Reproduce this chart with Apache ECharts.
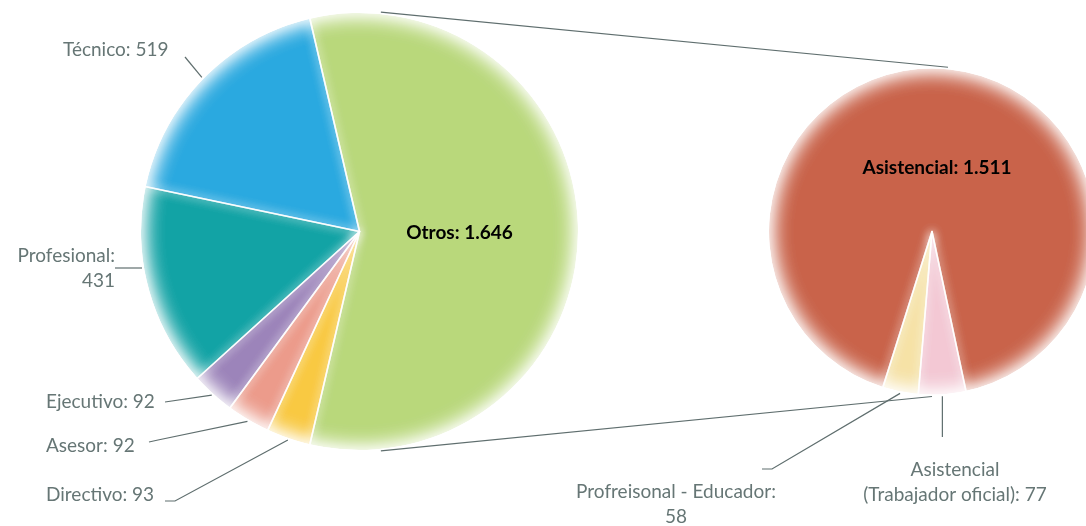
<!DOCTYPE html>
<html><head><meta charset="utf-8">
<script src="https://cdn.jsdelivr.net/npm/echarts@6/dist/echarts.min.js"></script>
<style>html,body{margin:0;padding:0;background:#fff}#c{width:1086px;height:526px}</style>
</head><body><div id="c"></div>
<script>
// ---------- data ----------
const mainCategories = ['Otros', 'Directivo', 'Asesor', 'Ejecutivo', 'Profesional', 'Técnico'];
const mainValues = [1646, 93, 92, 92, 431, 519];
const subCategories = ['Asistencial', 'Asistencial\n(Trabajador oficial)', 'Profreisonal - Educador'];
const subValues = [1511, 77, 58];

// ---------- styles / layout ----------
const mainColors = ['#b9d87b', '#f9c942', '#ec9b8b', '#9c84ba', '#12a3a5', '#2aa9e0'];
const subColors = ['#c9634a', '#f3c8d4', '#f6e2a6'];
const C1 = [359.5, 231.5], R1 = 220.5;
const C2 = [932, 231.5], R2 = 165;
const TEXT = '#667675', LINE = '#5f6e6e';
const FONT = 'Lato, "Noto Sans", sans-serif';
const wrapAfterColon = new Set(['Profesional', 'Profreisonal - Educador']);

const sum = a => a.reduce((s, v) => s + v, 0);
const fmt = v => String(v).replace(/\B(?=(\d{3})+(?!\d))/g, '.');
const mainStart = mainValues[0] / sum(mainValues) * 180; // "Otros" faces the second pie
const subStart = 252.5;

function midAngle(values, i, start) {
  const tot = sum(values);
  let acc = 0;
  for (let k = 0; k < i; k++) acc += values[k];
  return start - (acc + values[i] / 2) / tot * 360;
}
function edgePoint(c, r, deg) {
  const a = deg * Math.PI / 180;
  return [c[0] + r * Math.cos(a), c[1] - r * Math.sin(a)];
}

const mainLabelPos = {
  'Otros': { x: C1[0] + 100, y: 233, align: 'center' },
  'Técnico': { x: 63, y: 50, align: 'left', line: [[185, 57]] },
  'Profesional': { x: 115, y: 268, align: 'right', line: [[115, 268]], horizontal: true },
  'Ejecutivo': { x: 46, y: 402, align: 'left', line: [[165, 402]] },
  'Asesor': { x: 46, y: 446, align: 'left', line: [[149, 442], [158, 440]] },
  'Directivo': { x: 46, y: 495, align: 'left', line: [[165, 501], [175, 501]] }
};
const subLabelPos = {
  'Asistencial': { x: C2[0] + 5, y: 168, align: 'center' },
  'Asistencial\n(Trabajador oficial)': { x: 955, y: 482, align: 'center', vertical: 437 },
  'Profreisonal - Educador': { x: 676, y: 504, align: 'center', line: [[762, 469], [772, 469]] }
};

function makeLayout(cats, vals, start, c, r, posMap) {
  return function (params) {
    const i = params.dataIndex;
    const cfg = posMap[cats[i]];
    const out = { x: cfg.x, y: cfg.y, align: cfg.align, verticalAlign: 'middle' };
    const p0 = edgePoint(c, r, midAngle(vals, i, start));
    if (cfg.vertical) {
      out.labelLinePoints = [p0, [p0[0], cfg.vertical], [p0[0], cfg.vertical]];
    } else if (cfg.line) {
      let target = p0;
      if (cfg.horizontal) {
        const y = cfg.line[0][1];
        target = [c[0] - Math.sqrt(r * r - (y - c[1]) * (y - c[1])), y];
      }
      const pts = [target].concat(cfg.line.slice().reverse());
      while (pts.length < 3) pts.push(pts[pts.length - 1]);
      out.labelLinePoints = pts;
    }
    return out;
  };
}

const labelText = p => wrapAfterColon.has(p.name)
  ? p.name + ':\n' + fmt(p.value)
  : p.name + ': ' + fmt(p.value);

const pieBase = (c, r, start) => ({
  type: 'pie', center: c, radius: r, startAngle: start, clockwise: true,
  avoidLabelOverlap: false, silent: true, emphasis: { disabled: true },
  animation: false
});

const pies = [
  [C1, R1, mainStart, mainCategories, mainValues, mainColors],
  [C2, R2, subStart, subCategories, subValues, subColors]
];

const series = [];
// base colored pies
pies.forEach(([c, r, s, cats, vals, cols]) => {
  series.push(Object.assign(pieBase(c, r, s), {
    z: 1, label: { show: false }, labelLine: { show: false },
    data: cats.map((n, i) => ({ name: n, value: vals[i], itemStyle: { color: cols[i], borderWidth: 0 } }))
  }));
});
// soft slice boundaries (white hairline with glow)
pies.forEach(([c, r, s, cats, vals]) => {
  series.push(Object.assign(pieBase(c, r, s), {
    z: 2, label: { show: false }, labelLine: { show: false },
    itemStyle: { color: 'rgba(0,0,0,0)', borderColor: 'rgba(255,255,255,0.8)', borderWidth: 1.6, shadowBlur: 10, shadowColor: '#ffffff' },
    data: cats.map((n, i) => ({ name: n, value: vals[i] }))
  }));
});
// soft outer edge: white ring outside the pie whose blurred shadow fades inward
[0, 1].forEach(() => {
  pies.forEach(([c, r, s, cats, vals]) => {
    series.push(Object.assign(pieBase(c, [r - 2, r + 50], s), {
      z: 2, label: { show: false }, labelLine: { show: false },
      itemStyle: { color: '#ffffff', borderWidth: 0, shadowBlur: 22, shadowColor: '#ffffff' },
      data: [{ name: 'total', value: sum(vals) }]
    }));
  });
});
// label pies
const outsideLabel = { show: true, position: 'outside', color: TEXT, fontFamily: FONT, fontSize: 19, lineHeight: 25, formatter: labelText };
const insideLabel = { show: true, position: 'inside', color: '#000', fontFamily: FONT, fontSize: 19, fontWeight: 'bold', formatter: labelText };
[[C1, R1, mainStart, mainCategories, mainValues, mainLabelPos], [C2, R2, subStart, subCategories, subValues, subLabelPos]]
  .forEach(([c, r, s, cats, vals, pos]) => {
    series.push(Object.assign(pieBase(c, r, s), {
      z: 3, itemStyle: { color: 'rgba(0,0,0,0)', borderWidth: 0 },
      labelLine: { show: true, lineStyle: { color: LINE, width: 1.2 } },
      labelLayout: makeLayout(cats, vals, s, c, r, pos),
      data: cats.map((n, i) => ({
        name: n, value: vals[i],
        label: i === 0 ? insideLabel : outsideLabel,
        labelLine: { show: i !== 0 }
      }))
    }));
  });

// connector lines between the pies (external tangents)
const d = C2[0] - C1[0];
const th = Math.asin((R1 - R2) / d);
const topA = [C1[0] + R1 * Math.sin(th), C1[1] - R1 * Math.cos(th)];
const topB = [C2[0] + R2 * Math.sin(th), C2[1] - R2 * Math.cos(th)];
const botA = [C1[0] + R1 * Math.sin(th), C1[1] + R1 * Math.cos(th)];
const botB = [C2[0], C2[1] + R2];

const chart = echarts.init(document.getElementById('c'));
chart.setOption({
  backgroundColor: '#ffffff',
  animation: false,
  series: series,
  graphic: [
    { type: 'line', z: 100, silent: true, shape: { x1: topA[0], y1: topA[1], x2: topB[0], y2: topB[1] }, style: { stroke: LINE, lineWidth: 1.2 } },
    { type: 'line', z: 100, silent: true, shape: { x1: botA[0], y1: botA[1], x2: botB[0], y2: botB[1] }, style: { stroke: LINE, lineWidth: 1.2 } }
  ]
});
</script>
</body></html>
